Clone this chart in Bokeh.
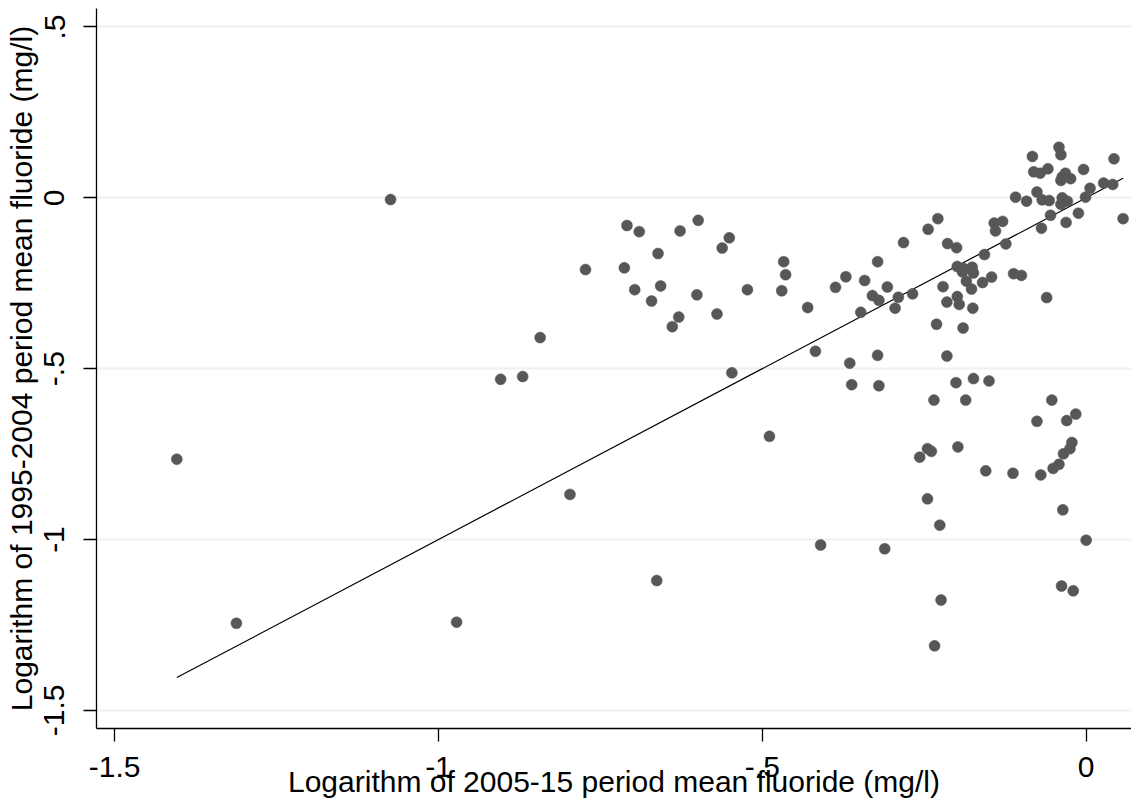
from bokeh.plotting import figure
from bokeh.models import Range1d, FixedTicker, ColumnDataSource
from bokeh.embed import file_html
from bokeh.resources import INLINE

# Logarithm of 2005-15 period mean fluoride (x) vs 1995-2004 period (y)
x_vals = [-1.404, -1.312, -1.074, -0.972, -0.904, -0.870, -0.843, -0.797, -0.773, -0.713,
          -0.709, -0.697, -0.690, -0.671, -0.661, -0.657, -0.663, -0.639, -0.629, -0.627,
          -0.601, -0.599, -0.570, -0.562, -0.551, -0.547, -0.523, -0.489, -0.470, -0.467,
          -0.464, -0.430, -0.418, -0.410, -0.387, -0.371, -0.365, -0.362, -0.348, -0.342,
          -0.330, -0.322, -0.320, -0.322, -0.320, -0.311, -0.307, -0.295, -0.290, -0.282,
          -0.268, -0.257, -0.245, -0.245, -0.244, -0.239, -0.235, -0.234, -0.231, -0.229,
          -0.226, -0.224, -0.221, -0.215, -0.215, -0.214, -0.201, -0.200, -0.199, -0.199,
          -0.198, -0.196, -0.191, -0.190, -0.189, -0.186, -0.185, -0.177, -0.176, -0.175,
          -0.174, -0.174, -0.160, -0.157, -0.155, -0.150, -0.146, -0.142, -0.140, -0.129,
          -0.124, -0.113, -0.112, -0.109, -0.100, -0.092, -0.083, -0.081, -0.076, -0.076,
          -0.071, -0.070, -0.069, -0.068, -0.061, -0.059, -0.057, -0.055, -0.053, -0.051,
          -0.042, -0.042, -0.039, -0.039, -0.039, -0.038, -0.037, -0.037, -0.036, -0.035,
          -0.032, -0.031, -0.030, -0.029, -0.025, -0.024, -0.022, -0.020, -0.016, -0.012,
          -0.004, -0.001, 0.000, 0.006, 0.027, 0.041, 0.043, 0.057]
y_vals = [-0.765, -1.245, -0.005, -1.242, -0.531, -0.523, -0.409, -0.868, -0.210, -0.205,
          -0.081, -0.269, -0.099, -0.302, -0.163, -0.258, -1.120, -0.377, -0.349, -0.097,
          -0.284, -0.066, -0.340, -0.147, -0.117, -0.512, -0.269, -0.698, -0.272, -0.187,
          -0.225, -0.321, -0.449, -1.016, -0.262, -0.231, -0.484, -0.547, -0.335, -0.242,
          -0.286, -0.187, -0.300, -0.461, -0.550, -1.027, -0.261, -0.323, -0.291, -0.131,
          -0.281, -0.759, -0.881, -0.734, -0.092, -0.742, -0.592, -1.311, -0.370, -0.061,
          -0.958, -1.177, -0.260, -0.463, -0.305, -0.134, -0.541, -0.146, -0.201, -0.289,
          -0.729, -0.312, -0.217, -0.381, -0.207, -0.592, -0.244, -0.267, -0.203, -0.323,
          -0.220, -0.529, -0.248, -0.166, -0.799, -0.536, -0.232, -0.074, -0.097, -0.069,
          -0.135, -0.806, -0.222, 0.002, -0.227, -0.010, 0.121, 0.076, 0.017, -0.654,
          0.072, -0.811, -0.089, -0.006, -0.292, 0.085, -0.008, -0.051, -0.592, -0.792,
          0.148, -0.780, 0.051, -0.019, 0.126, -1.136, 0.061, 0.000, -0.913, -0.749,
          0.072, -0.072, -0.652, -0.010, -0.734, 0.056, -0.716, -1.150, -0.633, -0.045,
          0.083, 0.002, -1.002, 0.028, 0.043, 0.039, 0.114, -0.061]

x_ticks = [-1.5, -1.0, -0.5, 0.0]
x_tick_labels = ["-1.5", "-1", "-.5", "0"]
y_ticks = [-1.5, -1.0, -0.5, 0.0, 0.5]
y_tick_labels = ["-1.5", "-1", "-.5", "0", ".5"]

FONT = "Liberation Sans"

p = figure(width=1131, height=800, output_backend="svg", toolbar_location=None,
           x_range=Range1d(-1.528, 0.070), y_range=Range1d(-1.553, 0.554),
           min_border_left=96, min_border_right=0, min_border_top=8, min_border_bottom=72)
p.outline_line_color = None
p.background_fill_color = "white"

# 45-degree reference line across the data's x range
lo, hi = min(x_vals), max(x_vals)
p.line([lo, hi], [lo, hi], line_color="black", line_width=1.2)

src = ColumnDataSource(dict(x=x_vals, y=y_vals))
p.scatter("x", "y", source=src, size=11, fill_color="#575757", line_color="#575757",
          line_width=0.5)

p.xgrid.visible = False
p.ygrid.ticker = FixedTicker(ticks=y_ticks)
p.ygrid.grid_line_color = "#efefef"
p.ygrid.grid_line_width = 2

p.xaxis.ticker = FixedTicker(ticks=x_ticks)
p.xaxis.major_label_overrides = {t: l for t, l in zip(x_ticks, x_tick_labels)}
p.yaxis.ticker = FixedTicker(ticks=y_ticks)
p.yaxis.major_label_overrides = {t: l for t, l in zip(y_ticks, y_tick_labels)}
p.yaxis.major_label_orientation = "vertical"

for ax in (p.xaxis, p.yaxis):
    ax.axis_line_color = "black"
    ax.axis_line_width = 1.3
    ax.major_tick_line_color = "black"
    ax.major_tick_line_width = 1.3
    ax.major_tick_in = 0
    ax.major_tick_out = 13
    ax.minor_tick_line_color = None
    ax.major_label_text_font = FONT
    ax.major_label_text_font_size = "30px"
    ax.major_label_text_color = "black"
    ax.axis_label_text_font = FONT
    ax.axis_label_text_font_size = "30px"
    ax.axis_label_text_font_style = "normal"
    ax.axis_label_text_color = "black"

p.xaxis.axis_label = "Logarithm of 2005-15 period mean fluoride (mg/l)"
p.yaxis.axis_label = "Logarithm of 1995-2004 period mean fluoride (mg/l)"
p.xaxis.major_label_standoff = 15
p.xaxis.axis_label_standoff = -15
p.yaxis.major_label_standoff = 19
p.yaxis.axis_label_standoff = 4

open("out.html", "w").write(file_html(p, INLINE))
